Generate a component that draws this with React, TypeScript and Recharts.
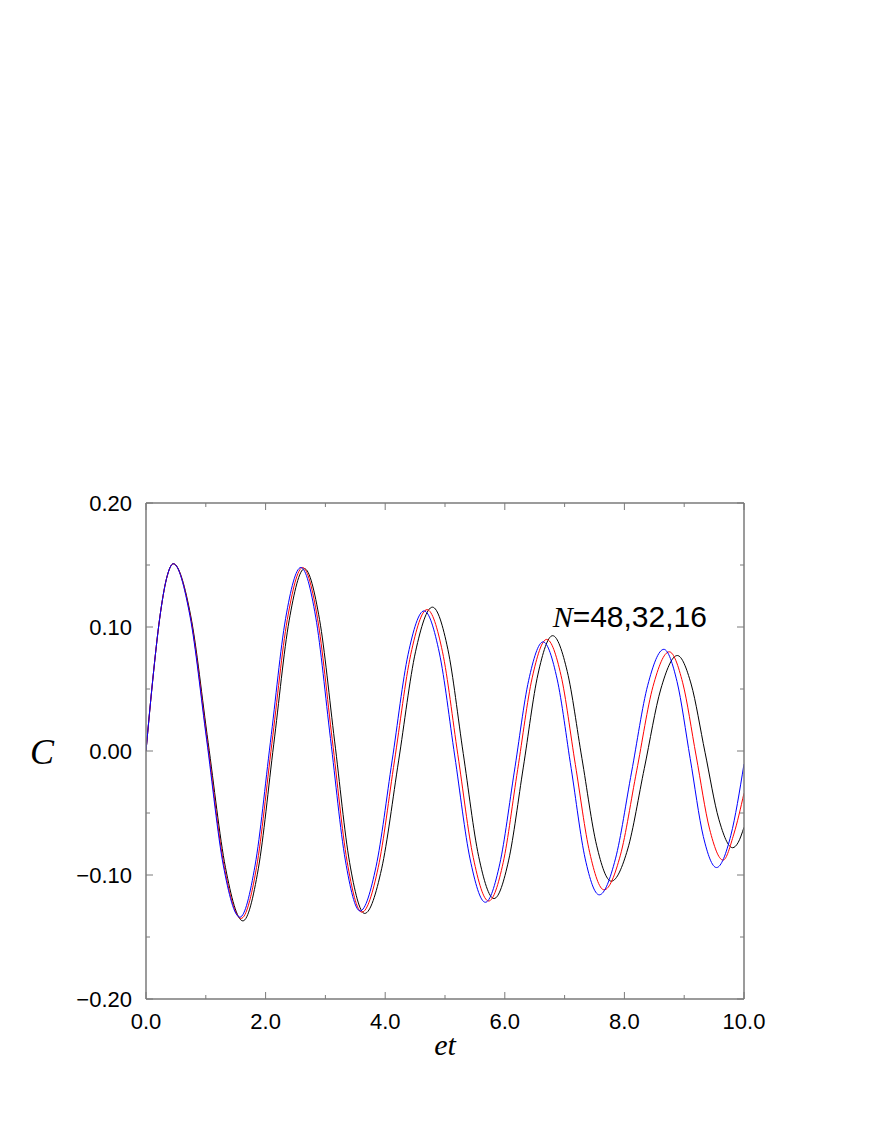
import React from 'react';
import { LineChart, Line, XAxis, YAxis, ReferenceDot, Label } from 'recharts';

// et (x) / C (y) pairs
const seriesN48: [number, number][] = [
  [0, 0], [0.114, 0.058], [0.229, 0.107], [0.343, 0.139], [0.457, 0.151],
  [0.735, 0.109], [1.014, 0.009], [1.292, -0.092], [1.57, -0.134],
  [1.825, -0.092], [2.08, 0.007], [2.335, 0.107], [2.59, 0.148],
  [2.838, 0.108], [3.085, 0.010], [3.333, -0.088], [3.58, -0.129],
  [3.848, -0.093], [4.115, -0.008], [4.383, 0.078], [4.65, 0.113],
  [4.906, 0.079], [5.163, -0.004], [5.419, -0.087], [5.675, -0.122],
  [5.916, -0.091], [6.158, -0.017], [6.399, 0.057], [6.64, 0.088],
  [6.875, 0.058], [7.11, -0.014], [7.345, -0.087], [7.58, -0.116],
  [7.85, -0.087], [8.12, -0.017], [8.39, 0.053], [8.66, 0.082],
  [8.88, 0.056], [9.10, -0.006], [9.32, -0.069], [9.54, -0.094],
  [9.78, -0.068], [10, -0.0105],
];

const seriesN32: [number, number][] = [
  [0, 0], [0.114, 0.058], [0.229, 0.107], [0.343, 0.139], [0.457, 0.151],
  [0.740, 0.109], [1.024, 0.008], [1.307, -0.093], [1.59, -0.135],
  [1.848, -0.094], [2.105, 0.006], [2.363, 0.106], [2.62, 0.148],
  [2.868, 0.107], [3.115, 0.009], [3.363, -0.089], [3.61, -0.130],
  [3.883, -0.094], [4.155, -0.008], [4.428, 0.078], [4.70, 0.114],
  [4.958, 0.080], [5.215, -0.003], [5.473, -0.086], [5.73, -0.121],
  [5.973, -0.090], [6.215, -0.015], [6.458, 0.059], [6.70, 0.090],
  [6.94, 0.061], [7.18, -0.011], [7.42, -0.082], [7.66, -0.112],
  [7.933, -0.084], [8.205, -0.016], [8.478, 0.052], [8.75, 0.080],
  [8.975, 0.055], [9.20, -0.004], [9.425, -0.063], [9.65, -0.088],
  [9.83, -0.067], [10, -0.034],
];

const seriesN16: [number, number][] = [
  [0, 0], [0.114, 0.058], [0.229, 0.107], [0.343, 0.139], [0.457, 0.151],
  [0.748, 0.109], [1.039, 0.007], [1.329, -0.094], [1.62, -0.137],
  [1.878, -0.095], [2.135, 0.005], [2.393, 0.105], [2.65, 0.147],
  [2.902, 0.106], [3.154, 0.008], [3.405, -0.090], [3.657, -0.131],
  [3.940, -0.095], [4.224, -0.008], [4.507, 0.080], [4.79, 0.116],
  [5.048, 0.082], [5.305, -0.002], [5.563, -0.085], [5.82, -0.119],
  [6.065, -0.088], [6.31, -0.013], [6.555, 0.062], [6.80, 0.093],
  [7.045, 0.064], [7.29, -0.006], [7.535, -0.076], [7.78, -0.105],
  [8.056, -0.079], [8.333, -0.014], [8.609, 0.050], [8.885, 0.077],
  [9.116, 0.054], [9.348, -0.001], [9.579, -0.055], [9.81, -0.078],
  [9.9, -0.074], [10, -0.0615],
];

const xTicks = [0, 1, 2, 3, 4, 5, 6, 7, 8, 9, 10];
const xTickLabels: Record<number, string> = { 0: '0.0', 2: '2.0', 4: '4.0', 6: '6.0', 8: '8.0', 10: '10.0' };
const yTicks = [-0.2, -0.15, -0.1, -0.05, 0, 0.05, 0.1, 0.15, 0.2];
const yTickLabels: Record<string, string> = {
  '-0.2': '\u22120.20', '-0.1': '\u22120.10', '0': '0.00', '0.1': '0.10', '0.2': '0.20',
};

const annotation = { x: 6.8, y: 0.1, italic: 'N', rest: '=48,32,16' };

const toRows = (s: [number, number][]) => s.map(([x, y]) => ({ x, y }));

const AXIS = '#7a7a7a';
const LABEL_FONT = '"Liberation Sans", Arial, Helvetica, sans-serif';
const SERIF = '"Liberation Serif", "Times New Roman", serif';
const MAJOR = 7;
const MINOR = 4;
const TICK_FS = 22;

const yKey = (v: number) => String(Math.round(v * 100) / 100);

const BottomTick = (props: any) => {
  const { x, y, payload } = props;
  const lab = xTickLabels[payload.value];
  const len = lab ? MAJOR : MINOR;
  return (
    <g>
      <line x1={x} x2={x} y1={y} y2={y - len} stroke={AXIS} strokeWidth={1} />
      {lab && (
        <text x={x} y={y + 30} textAnchor="middle" fontSize={TICK_FS} fontFamily={LABEL_FONT} fill="#000">
          {lab}
        </text>
      )}
    </g>
  );
};

const TopTick = (props: any) => {
  const { x, y, payload } = props;
  const len = xTickLabels[payload.value] ? MAJOR : MINOR;
  return <line x1={x} x2={x} y1={y} y2={y + len} stroke={AXIS} strokeWidth={1} />;
};

const LeftTick = (props: any) => {
  const { x, y, payload } = props;
  const lab = yTickLabels[yKey(payload.value)];
  const len = lab ? MAJOR : MINOR;
  return (
    <g>
      <line x1={x} x2={x + len} y1={y} y2={y} stroke={AXIS} strokeWidth={1} />
      {lab && (
        <text x={x - 14} y={y + 8} textAnchor="end" fontSize={TICK_FS} fontFamily={LABEL_FONT} fill="#000">
          {lab}
        </text>
      )}
    </g>
  );
};

const RightTick = (props: any) => {
  const { x, y, payload } = props;
  const len = yTickLabels[yKey(payload.value)] ? MAJOR : MINOR;
  return <line x1={x} x2={x - len} y1={y} y2={y} stroke={AXIS} strokeWidth={1} />;
};

const AnnotationShape = (props: any) => {
  const { cx, cy } = props;
  return (
    <text x={cx} y={cy} fontSize={30} fontFamily={LABEL_FONT} fill="#000">
      <tspan fontFamily={SERIF} fontStyle="italic">{annotation.italic}</tspan>
      {annotation.rest}
    </text>
  );
};

export default function App() {
  return (
    <div style={{ position: 'absolute', left: 0, top: 0, width: 872, height: 1128, background: '#fff' }}>
      <LineChart
        width={872}
        height={1128}
        margin={{ top: 493, right: 118, bottom: 79, left: 86 }}
      >
        <XAxis
          xAxisId="b"
          type="number"
          dataKey="x"
          domain={[0, 10]}
          ticks={xTicks}
          interval={0}
          allowDataOverflow
          height={50}
          axisLine={{ stroke: AXIS, strokeWidth: 1.5 }}
          tickLine={false}
          tickSize={0}
          tickMargin={0}
          tick={<BottomTick />}
        >
          <Label
            content={(p: any) => {
              const vb = p.viewBox;
              return (
                <text x={vb.x + vb.width / 2} y={1055} textAnchor="middle" fontSize={30} fontFamily={SERIF} fontStyle="italic" fill="#000">
                  et
                </text>
              );
            }}
          />
        </XAxis>
        <XAxis
          xAxisId="t"
          orientation="top"
          type="number"
          dataKey="x"
          domain={[0, 10]}
          ticks={xTicks}
          interval={0}
          allowDataOverflow
          height={10}
          axisLine={{ stroke: AXIS, strokeWidth: 1.5 }}
          tickLine={false}
          tickSize={0}
          tickMargin={0}
          tick={<TopTick />}
        />
        <YAxis
          yAxisId="l"
          type="number"
          domain={[-0.2, 0.2]}
          ticks={yTicks}
          interval={0}
          allowDataOverflow
          width={60}
          axisLine={{ stroke: AXIS, strokeWidth: 1.5 }}
          tickLine={false}
          tickSize={0}
          tickMargin={0}
          tick={<LeftTick />}
        >
          <Label
            content={(p: any) => {
              const vb = p.viewBox;
              return (
                <text x={42} y={vb.y + vb.height / 2 + 13} textAnchor="middle" fontSize={36} fontFamily={SERIF} fontStyle="italic" fill="#000">
                  C
                </text>
              );
            }}
          />
        </YAxis>
        <YAxis
          yAxisId="r"
          orientation="right"
          type="number"
          domain={[-0.2, 0.2]}
          ticks={yTicks}
          interval={0}
          allowDataOverflow
          width={10}
          axisLine={{ stroke: AXIS, strokeWidth: 1.5 }}
          tickLine={false}
          tickSize={0}
          tickMargin={0}
          tick={<RightTick />}
        />
        <Line
          xAxisId="b"
          yAxisId="l"
          data={toRows(seriesN16)}
          dataKey="y"
          type="monotone"
          stroke="#000000"
          strokeWidth={1}
          dot={false}
          activeDot={false}
          isAnimationActive={false}
        />
        <Line
          xAxisId="b"
          yAxisId="l"
          data={toRows(seriesN32)}
          dataKey="y"
          type="monotone"
          stroke="#ff0000"
          strokeWidth={1}
          dot={false}
          activeDot={false}
          isAnimationActive={false}
        />
        <Line
          xAxisId="b"
          yAxisId="l"
          data={toRows(seriesN48)}
          dataKey="y"
          type="monotone"
          stroke="#0000ff"
          strokeWidth={1}
          dot={false}
          activeDot={false}
          isAnimationActive={false}
        />
        <ReferenceDot
          xAxisId="b"
          yAxisId="l"
          x={annotation.x}
          y={annotation.y}
          r={1}
          shape={<AnnotationShape />}
        />
      </LineChart>
    </div>
  );
}
